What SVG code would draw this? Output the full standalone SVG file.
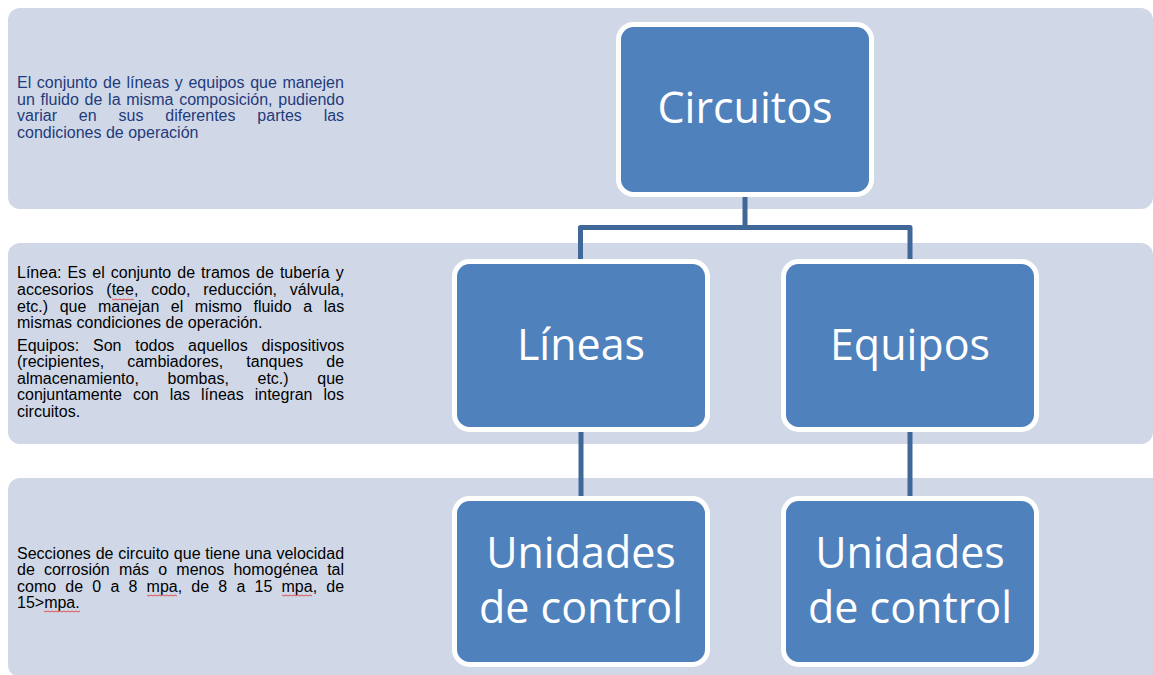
<svg xmlns="http://www.w3.org/2000/svg" width="1153" height="675" viewBox="0 0 1153 675">
  <defs>
    <style>
      .band { fill: #D0D8E8; }
      .node rect { fill: #4F81BD; stroke: #FFFFFF; stroke-width: 5; }
      .node text { font-family: "Open Sans", "Noto Sans", sans-serif; font-size: 43px; fill: #FFFFFF; text-anchor: middle; }
      .conn { fill: none; stroke: #3F6797; stroke-width: 5; stroke-linejoin: round; }
      .desc { font-family: "Liberation Sans", Arial, sans-serif; font-size: 16px; fill: #000000; }
      .desc.blue { fill: #1F3B7B; }
      .spell { stroke: #E05050; stroke-width: 1; fill: none; }
    </style>
  </defs>
  <rect width="1153" height="675" fill="#FFFFFF"/>

  <g id="bands">
    <rect class="band" x="8" y="8" width="1145" height="201" rx="12"/>
    <rect class="band" x="8" y="243" width="1145" height="201" rx="12"/>
    <rect class="band" x="8" y="478" width="1160" height="199" rx="12"/>
  </g>

  <g id="desc-circuitos" class="desc blue">
    <text class="desc blue" x="17" y="88" word-spacing="1.2">El conjunto de líneas y equipos que manejen</text>
    <text class="desc blue" x="17" y="104.5" word-spacing="1.3">un fluido de la misma composición, pudiendo</text>
    <text class="desc blue" x="17" y="121" word-spacing="17.4">variar en sus diferentes partes las</text>
    <text class="desc blue" x="17" y="137.5">condiciones de operación</text>
  </g>

  <g id="desc-lineas-equipos">
    <text class="desc" x="17" y="278" word-spacing="1.6">Línea: Es el conjunto de tramos de tubería y</text>
    <text class="desc" x="17" y="295" word-spacing="8.4">accesorios (tee, codo, reducción, válvula,</text>
    <text class="desc" x="17" y="311.5" word-spacing="7.1">etc.) que manejan el mismo fluido a las</text>
    <text class="desc" x="17" y="328">mismas condiciones de operación.</text>
    <text class="desc" x="17" y="350.5" word-spacing="9.3">Equipos: Son todos aquellos dispositivos</text>
    <text class="desc" x="17" y="367" word-spacing="18.6">(recipientes, cambiadores, tanques de</text>
    <text class="desc" x="17" y="383.5" word-spacing="24.2">almacenamiento, bombas, etc.) que</text>
    <text class="desc" x="17" y="400" word-spacing="6.5">conjuntamente con las líneas integran los</text>
    <text class="desc" x="17" y="416.5">circuitos.</text>
    <path class="spell" d="M112 299 l2 1 l2 -1 l2 1 l2 -1 l2 1 l2 -1 l2 1 l2 -1 l2 1 l2 -1 l2 1"/>
  </g>

  <g id="desc-unidades">
    <text class="desc" x="17" y="558.5" word-spacing="0.4">Secciones de circuito que tiene una velocidad</text>
    <text class="desc" x="17" y="575" word-spacing="4.7">de corrosión más o menos homogénea tal</text>
    <text class="desc" x="17" y="591.5" word-spacing="4.75">como de 0 a 8 mpa, de 8 a 15 mpa, de</text>
    <text class="desc" x="17" y="608">15&gt;mpa.</text>
    <path class="spell" d="M147 595 l2 1 l2 -1 l2 1 l2 -1 l2 1 l2 -1 l2 1 l2 -1 l2 1 l2 -1 l2 1 l2 -1 l2 1 l2 -1 l2 1"/>
    <path class="spell" d="M282 595 l2 1 l2 -1 l2 1 l2 -1 l2 1 l2 -1 l2 1 l2 -1 l2 1 l2 -1 l2 1 l2 -1 l2 1 l2 -1 l2 1"/>
    <path class="spell" d="M44 611 l2 1 l2 -1 l2 1 l2 -1 l2 1 l2 -1 l2 1 l2 -1 l2 1 l2 -1 l2 1 l2 -1 l2 1 l2 -1 l2 1 l2 -1 l2 1 l2 -1"/>
  </g>

  <g id="connectors">
    <path class="conn" d="M745 194 V227.5"/>
    <path class="conn" d="M580.5 259 V227.5 H910 V259"/>
    <path class="conn" d="M581 430 V497"/>
    <path class="conn" d="M910 430 V497"/>
  </g>

  <g id="node-circuitos" class="node">
    <rect x="618.5" y="24.5" width="253" height="170" rx="15"/>
    <text x="745" y="123">Circuitos</text>
  </g>
  <g id="node-lineas" class="node">
    <rect x="454.5" y="261.5" width="253" height="168" rx="15"/>
    <text x="581" y="360">Líneas</text>
  </g>
  <g id="node-equipos" class="node">
    <rect x="783.5" y="261.5" width="253" height="168" rx="15"/>
    <text x="910" y="360">Equipos</text>
  </g>
  <g id="node-unidades-1" class="node">
    <rect x="454.5" y="498.5" width="253" height="166" rx="15"/>
    <text x="581" y="568">Unidades</text>
    <text x="581" y="623">de control</text>
  </g>
  <g id="node-unidades-2" class="node">
    <rect x="783.5" y="498.5" width="253" height="166" rx="15"/>
    <text x="910" y="568">Unidades</text>
    <text x="910" y="623">de control</text>
  </g>
</svg>
